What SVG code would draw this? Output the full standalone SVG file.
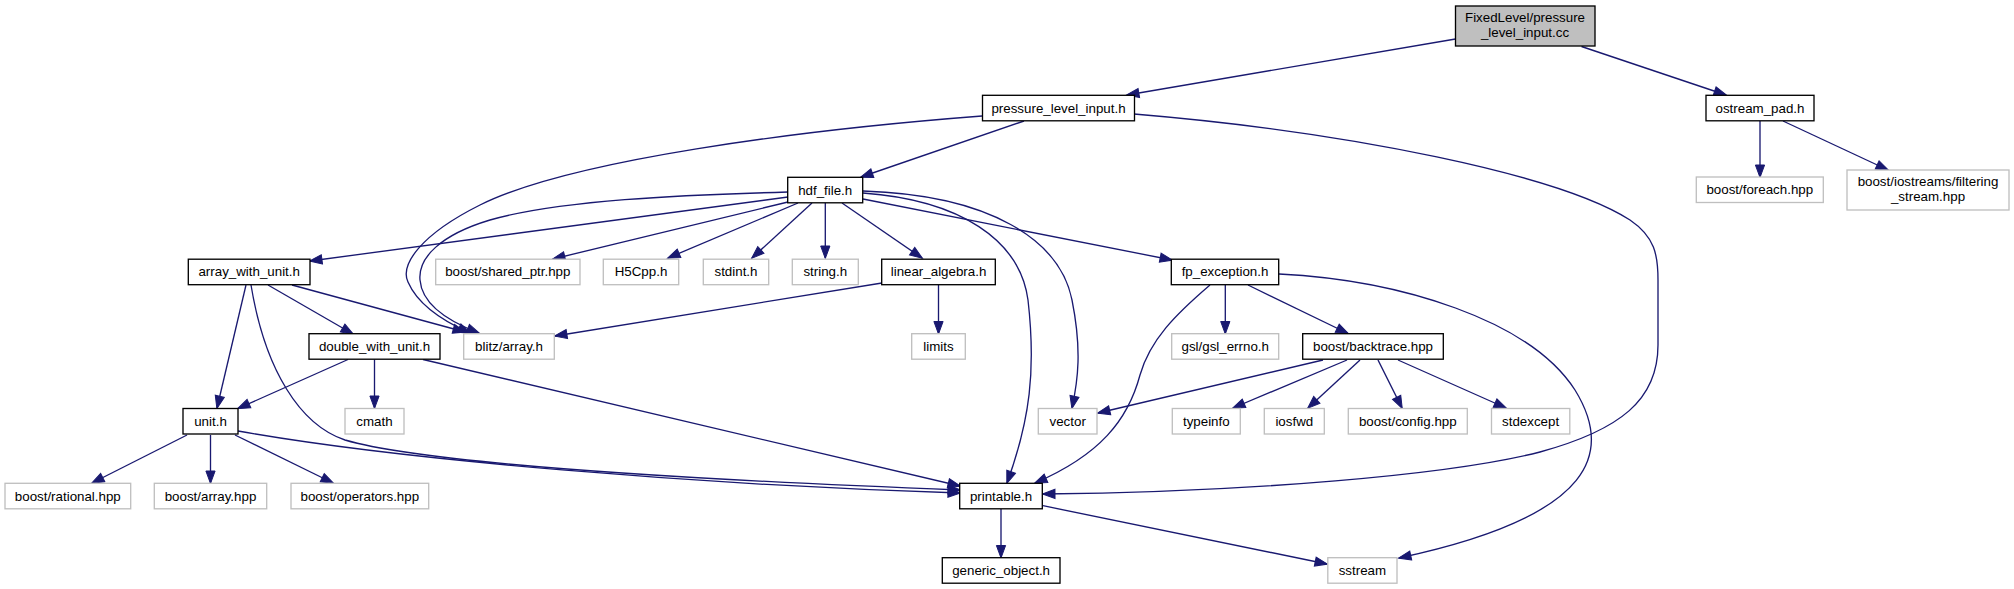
<svg xmlns="http://www.w3.org/2000/svg" width="2014" height="589" viewBox="0 0 2014 589">
<style>
.n rect{fill:#ffffff;stroke:#000000;stroke-width:1.33}
.u rect{fill:#ffffff;stroke:#bfbfbf;stroke-width:1.33}
.r rect{fill:#bfbfbf;stroke:#000000;stroke-width:1.33}
text{font-family:"Liberation Sans",Arial,Helvetica,sans-serif;font-size:13.33px;fill:#000000;text-anchor:middle}
.e path{fill:none;stroke:#191970;stroke-width:1.33;marker-end:url(#ah)}
</style>
<defs>
<marker id="ah" markerUnits="userSpaceOnUse" viewBox="0 -5 13 10" markerWidth="13" markerHeight="10" refX="12" refY="0" orient="auto" overflow="visible">
<path d="M0,-4.6 L12.5,0 L0,4.6 Z" fill="#191970" stroke="#191970" stroke-width="1"/>
</marker>
</defs>
<rect width="2014" height="589" fill="#ffffff"/>
<g class="e" id="edges">
<path d="M1455.5,39 L1127,95"/>
<path d="M1581.5,46.5 L1726,95"/>
<path d="M1024,121 L861,177"/>
<path d="M982,116 C800,130 570,160 480,205 C420,235 400,265 408,282 C418,305 445,322 470,333"/>
<path d="M788,192 C680,195 560,200 490,220 C440,235 418,258 420,280 C422,305 450,322 479,333"/>
<path d="M788,197 L310,261"/>
<path d="M788,202 L553,259"/>
<path d="M798,203 L668,258"/>
<path d="M812,203 L752,258"/>
<path d="M825.3,203 L825.3,258"/>
<path d="M842,203 L922,258"/>
<path d="M863,199 L1172,260"/>
<path d="M863,193 C960,200 1020,240 1028,300 C1036,370 1030,420 1007,483"/>
<path d="M863,191 C990,195 1060,240 1072,300 C1082,350 1078,380 1072,408"/>
<path d="M246,285 L217,408"/>
<path d="M251,285 C265,370 300,425 345,440 C430,465 700,480 960,490"/>
<path d="M238,431 C400,460 700,485 960,493"/>
<path d="M268,285 L353,334"/>
<path d="M292,285 L465,332"/>
<path d="M348,359.5 L238,408.5"/>
<path d="M374.5,359.5 L374.5,408"/>
<path d="M423,359.5 L960,486"/>
<path d="M187,435 L92,483"/>
<path d="M210.5,435 L210.5,483"/>
<path d="M235,435 L333,483"/>
<path d="M882,283 L555,336"/>
<path d="M938.5,285 L938.5,333.5"/>
<path d="M1210,285 C1175,315 1150,340 1140,375 C1128,420 1100,455 1035,483"/>
<path d="M1225.3,285 L1225.3,333.5"/>
<path d="M1248,285 L1348,333.5"/>
<path d="M1279,274 C1400,280 1530,320 1575,390 C1612,450 1600,515 1399,558"/>
<path d="M1323,360 L1098,413"/>
<path d="M1347,360 L1233,408"/>
<path d="M1360,360 L1308,408"/>
<path d="M1378,360 L1402,408"/>
<path d="M1398,360 L1506,408"/>
<path d="M1134,114 C1350,132 1560,175 1630,220 C1655,237 1658,255 1658,280 L1658,345 C1658,400 1620,430 1540,452 C1450,475 1250,492 1043,494"/>
<path d="M1001,509 L1001,557.5"/>
<path d="M1043,505.7 L1327,564"/>
<path d="M1760,121 L1760,177"/>
<path d="M1783,121 L1888,170"/>
</g>
<g id="root" class="r"><rect x="1455.5" y="6" width="139.5" height="40"/><text x="1525" y="21.5">FixedLevel/pressure</text><text x="1525" y="36.5">_level_input.cc</text></g>
<g id="pressure_level_input_h" class="n"><rect x="982.5" y="95.3" width="152" height="25.5"/><text x="1058.5" y="112.5">pressure_level_input.h</text></g>
<g id="ostream_pad_h" class="n"><rect x="1706" y="95.3" width="108" height="25.5"/><text x="1760" y="112.5">ostream_pad.h</text></g>
<g id="boost_foreach_hpp" class="u"><rect x="1696.3" y="177" width="127" height="25.5"/><text x="1759.8" y="194.3">boost/foreach.hpp</text></g>
<g id="boost_filtering_stream_hpp" class="u"><rect x="1847" y="170" width="162" height="40"/><text x="1928" y="186">boost/iostreams/filtering</text><text x="1928" y="201">_stream.hpp</text></g>
<g id="hdf_file_h" class="n"><rect x="787.7" y="177.3" width="75" height="25.5"/><text x="825.2" y="194.5">hdf_file.h</text></g>
<g id="array_with_unit_h" class="n"><rect x="188.3" y="259.2" width="121.7" height="25.5"/><text x="249.2" y="276.4">array_with_unit.h</text></g>
<g id="boost_shared_ptr_hpp" class="u"><rect x="435.7" y="259.2" width="144.3" height="25.5"/><text x="507.8" y="276.4">boost/shared_ptr.hpp</text></g>
<g id="H5Cpp_h" class="u"><rect x="603.3" y="259.2" width="75.4" height="25.5"/><text x="641" y="276.4">H5Cpp.h</text></g>
<g id="stdint_h" class="u"><rect x="703.3" y="259.2" width="65.4" height="25.5"/><text x="736" y="276.4">stdint.h</text></g>
<g id="string_h" class="u"><rect x="792.3" y="259.2" width="66" height="25.5"/><text x="825.3" y="276.4">string.h</text></g>
<g id="linear_algebra_h" class="n"><rect x="881.7" y="259.2" width="113.6" height="25.5"/><text x="938.5" y="276.4">linear_algebra.h</text></g>
<g id="fp_exception_h" class="n"><rect x="1171.3" y="259.2" width="107.4" height="25.5"/><text x="1225" y="276.4">fp_exception.h</text></g>
<g id="double_with_unit_h" class="n"><rect x="309" y="333.7" width="131" height="25.5"/><text x="374.5" y="350.9">double_with_unit.h</text></g>
<g id="blitz_array_h" class="u"><rect x="463.7" y="333.7" width="90.6" height="25.5"/><text x="509" y="350.9">blitz/array.h</text></g>
<g id="limits" class="u"><rect x="911.7" y="333.7" width="53.6" height="25.5"/><text x="938.5" y="350.9">limits</text></g>
<g id="gsl_gsl_errno_h" class="u"><rect x="1171.7" y="333.7" width="107" height="25.5"/><text x="1225.2" y="350.9">gsl/gsl_errno.h</text></g>
<g id="boost_backtrace_hpp" class="n"><rect x="1302.7" y="333.7" width="140.6" height="25.5"/><text x="1373" y="350.9">boost/backtrace.hpp</text></g>
<g id="unit_h" class="n"><rect x="183" y="408.5" width="55" height="25.5"/><text x="210.5" y="425.7">unit.h</text></g>
<g id="cmath" class="u"><rect x="345" y="408.5" width="59" height="25.5"/><text x="374.5" y="425.7">cmath</text></g>
<g id="vector" class="u"><rect x="1038.3" y="408.5" width="58.7" height="25.5"/><text x="1067.7" y="425.7">vector</text></g>
<g id="typeinfo" class="u"><rect x="1172.3" y="408.5" width="68" height="25.5"/><text x="1206.3" y="425.7">typeinfo</text></g>
<g id="iosfwd" class="u"><rect x="1264.3" y="408.5" width="60" height="25.5"/><text x="1294.3" y="425.7">iosfwd</text></g>
<g id="boost_config_hpp" class="u"><rect x="1348.3" y="408.5" width="119" height="25.5"/><text x="1407.8" y="425.7">boost/config.hpp</text></g>
<g id="stdexcept" class="u"><rect x="1491.5" y="408.5" width="78.3" height="25.5"/><text x="1530.6" y="425.7">stdexcept</text></g>
<g id="boost_rational_hpp" class="u"><rect x="5" y="483.3" width="125.7" height="25.5"/><text x="67.8" y="500.5">boost/rational.hpp</text></g>
<g id="boost_array_hpp" class="u"><rect x="154.3" y="483.3" width="112.4" height="25.5"/><text x="210.5" y="500.5">boost/array.hpp</text></g>
<g id="boost_operators_hpp" class="u"><rect x="291" y="483.3" width="137.7" height="25.5"/><text x="359.8" y="500.5">boost/operators.hpp</text></g>
<g id="printable_h" class="n"><rect x="959.7" y="483.3" width="82.6" height="25.5"/><text x="1001" y="500.5">printable.h</text></g>
<g id="generic_object_h" class="n"><rect x="942.3" y="557.7" width="117.7" height="25.5"/><text x="1001.1" y="574.9">generic_object.h</text></g>
<g id="sstream" class="u"><rect x="1327.8" y="557.7" width="69.2" height="25.5"/><text x="1362.4" y="574.9">sstream</text></g>
</svg>
